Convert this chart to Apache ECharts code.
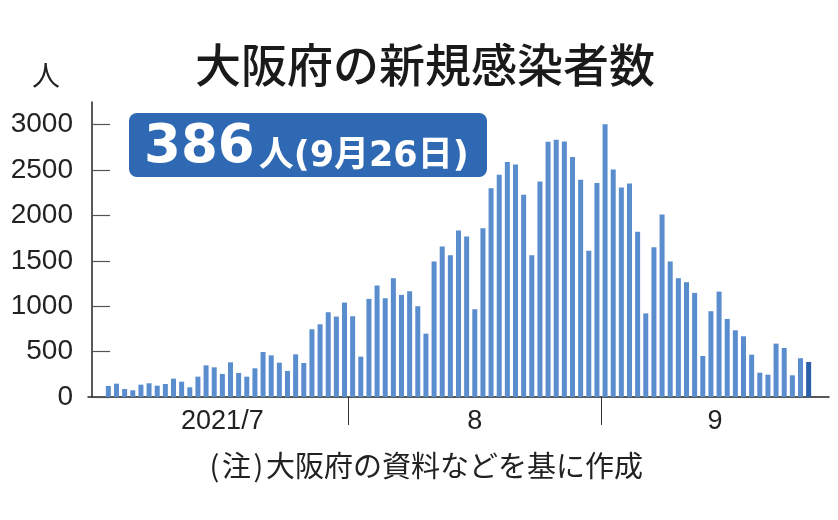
<!DOCTYPE html>
<html>
<head>
<meta charset="utf-8">
<script src="https://cdn.jsdelivr.net/npm/echarts@6/dist/echarts.min.js"></script>
<style>
  html, body { margin: 0; padding: 0; background: #fff; }
  #chart { width: 838px; height: 520px; }
</style>
</head>
<body>
<div id="chart"></div>
<script>
// ---- data ----
const dates = [
  '7/2','7/3','7/4','7/5','7/6','7/7','7/8','7/9','7/10','7/11','7/12','7/13','7/14','7/15','7/16',
  '7/17','7/18','7/19','7/20','7/21','7/22','7/23','7/24','7/25','7/26','7/27','7/28','7/29','7/30','7/31',
  '8/1','8/2','8/3','8/4','8/5','8/6','8/7','8/8','8/9','8/10','8/11','8/12','8/13','8/14','8/15','8/16',
  '8/17','8/18','8/19','8/20','8/21','8/22','8/23','8/24','8/25','8/26','8/27','8/28','8/29','8/30','8/31',
  '9/1','9/2','9/3','9/4','9/5','9/6','9/7','9/8','9/9','9/10','9/11','9/12','9/13','9/14','9/15','9/16',
  '9/17','9/18','9/19','9/20','9/21','9/22','9/23','9/24','9/25','9/26'
];
const newCases = [
  121,147,88,74,136,151,125,143,202,169,107,224,349,327,254,
  382,265,224,316,496,459,378,287,470,375,746,801,934,886,1040,
  890,445,1081,1228,1088,1309,1125,1165,1000,698,1492,1658,1562,1834,1768,967,
  1860,2301,2448,2588,2562,2228,1562,2375,2812,2834,2816,2643,2393,1610,2357,
  3004,2507,2309,2353,1820,921,1650,2011,1492,1309,1265,1147,452,945,1161,860,
  735,669,466,268,246,588,540,239,427,386
];
const months = [7, 8, 9];
const monthLengths = [31, 31, 30];
const monthLabels = ['2021/7', '8', '9'];
const yTicks = [0, 500, 1000, 1500, 2000, 2500, 3000];
const titleText = '大阪府の新規感染者数';
const unitText = '人';
const calloutNumber = '386';
const calloutRest = '人(9月26日)';
const noteHead = '注';
const noteBody = '大阪府の資料などを基に作成';

// ---- derived mapping (day index, July 1 = 1) ----
const monthOffset = {};
let acc = 0;
months.forEach((m, i) => { monthOffset[m] = acc; acc += monthLengths[i]; });
function dayIndex(s) {
  const [m, d] = s.split('/').map(Number);
  return monthOffset[m] + d;
}
const xMin = -0.5, xMax = 90.5;
const boundaries = months.slice(1).map(m => monthOffset[m] + 0.5);
const labelPos = months.map((m, i) => {
  const a = Math.max(xMin, monthOffset[m] + 0.5);
  const b = Math.min(xMax, monthOffset[m] + monthLengths[i] + 0.5);
  return (a + b) / 2;
});
const lastIdx = dates.length - 1;
const barData = dates.map((d, i) => {
  const item = { value: [dayIndex(d), newCases[i]] };
  if (i === lastIdx) item.itemStyle = { color: '#2a5fa9' };
  return item;
});

const numFont = '"Liberation Sans", Arial, sans-serif';
const cjkFont = '"Noto Sans CJK JP", sans-serif';
const boxFont = '"DejaVu Sans", "Noto Sans CJK JP", sans-serif';

const chart = echarts.init(document.getElementById('chart'), null, { renderer: 'canvas' });
chart.setOption({
  animation: false,
  backgroundColor: '#fff',
  grid: { left: 88, right: 9, top: 102, bottom: 123, containLabel: false },
  xAxis: {
    type: 'value',
    min: xMin,
    max: xMax,
    splitLine: { show: false },
    axisLine: { show: true, onZero: false, lineStyle: { color: '#222', width: 1.5 } },
    axisTick: {
      show: true,
      customValues: boundaries,
      length: 28,
      lineStyle: { color: '#333', width: 1 }
    },
    axisLabel: {
      show: true,
      customValues: labelPos,
      formatter: v => {
        let best = 0;
        labelPos.forEach((p, i) => { if (Math.abs(p - v) < Math.abs(labelPos[best] - v)) best = i; });
        return monthLabels[best];
      },
      fontFamily: numFont,
      fontSize: 27,
      color: '#222',
      margin: 11
    }
  },
  yAxis: {
    type: 'value',
    min: 0,
    max: 3250,
    splitLine: { show: false },
    axisLine: { show: true, lineStyle: { color: '#222', width: 1.5 } },
    axisTick: {
      show: true,
      inside: true,
      length: 18,
      customValues: yTicks,
      lineStyle: { color: '#555', width: 1.2 }
    },
    axisLabel: {
      show: true,
      customValues: yTicks,
      formatter: v => String(v),
      fontFamily: numFont,
      fontSize: 28,
      color: '#222',
      margin: 15
    }
  },
  series: [{
    type: 'bar',
    data: barData,
    barWidth: 5,
    itemStyle: { color: '#5a8dce' }
  }],
  graphic: [
    {
      type: 'text',
      style: {
        x: 425, y: 65,
        text: titleText,
        font: '500 46px ' + cjkFont,
        fill: '#1a1a1a',
        textAlign: 'center',
        textVerticalAlign: 'middle'
      }
    },
    {
      type: 'text',
      style: {
        x: 46, y: 75,
        text: unitText,
        font: '28px ' + cjkFont,
        fill: '#222',
        textAlign: 'center',
        textVerticalAlign: 'middle'
      }
    },
    {
      type: 'rect',
      shape: { x: 129, y: 113, width: 358, height: 64, r: 8 },
      style: { fill: '#2f69b3' }
    },
    {
      type: 'text',
      style: {
        x: 144, y: 148,
        text: '{a|' + calloutNumber + '}{b|' + calloutRest + '}',
        textVerticalAlign: 'middle',
        rich: {
          a: { fontFamily: boxFont, fontWeight: 'bold', fontSize: 53, fill: '#fff', color: '#fff', verticalAlign: 'bottom', padding: [0, 4, 0, 0] },
          b: { fontFamily: boxFont, fontWeight: 'bold', fontSize: 35, fill: '#fff', color: '#fff', verticalAlign: 'bottom' }
        }
      }
    },
    {
      type: 'text',
      style: {
        x: 425, y: 466,
        text: '{p|(}{t|' + noteHead + '}{p|)}{t|' + noteBody + '}',
        textAlign: 'center',
        textVerticalAlign: 'middle',
        rich: {
          p: { fontFamily: cjkFont, fontSize: 29, width: 15, align: 'center', fill: '#222', color: '#222' },
          t: { fontFamily: cjkFont, fontSize: 29, fill: '#222', color: '#222' }
        }
      }
    }
  ]
});
</script>
</body>
</html>
